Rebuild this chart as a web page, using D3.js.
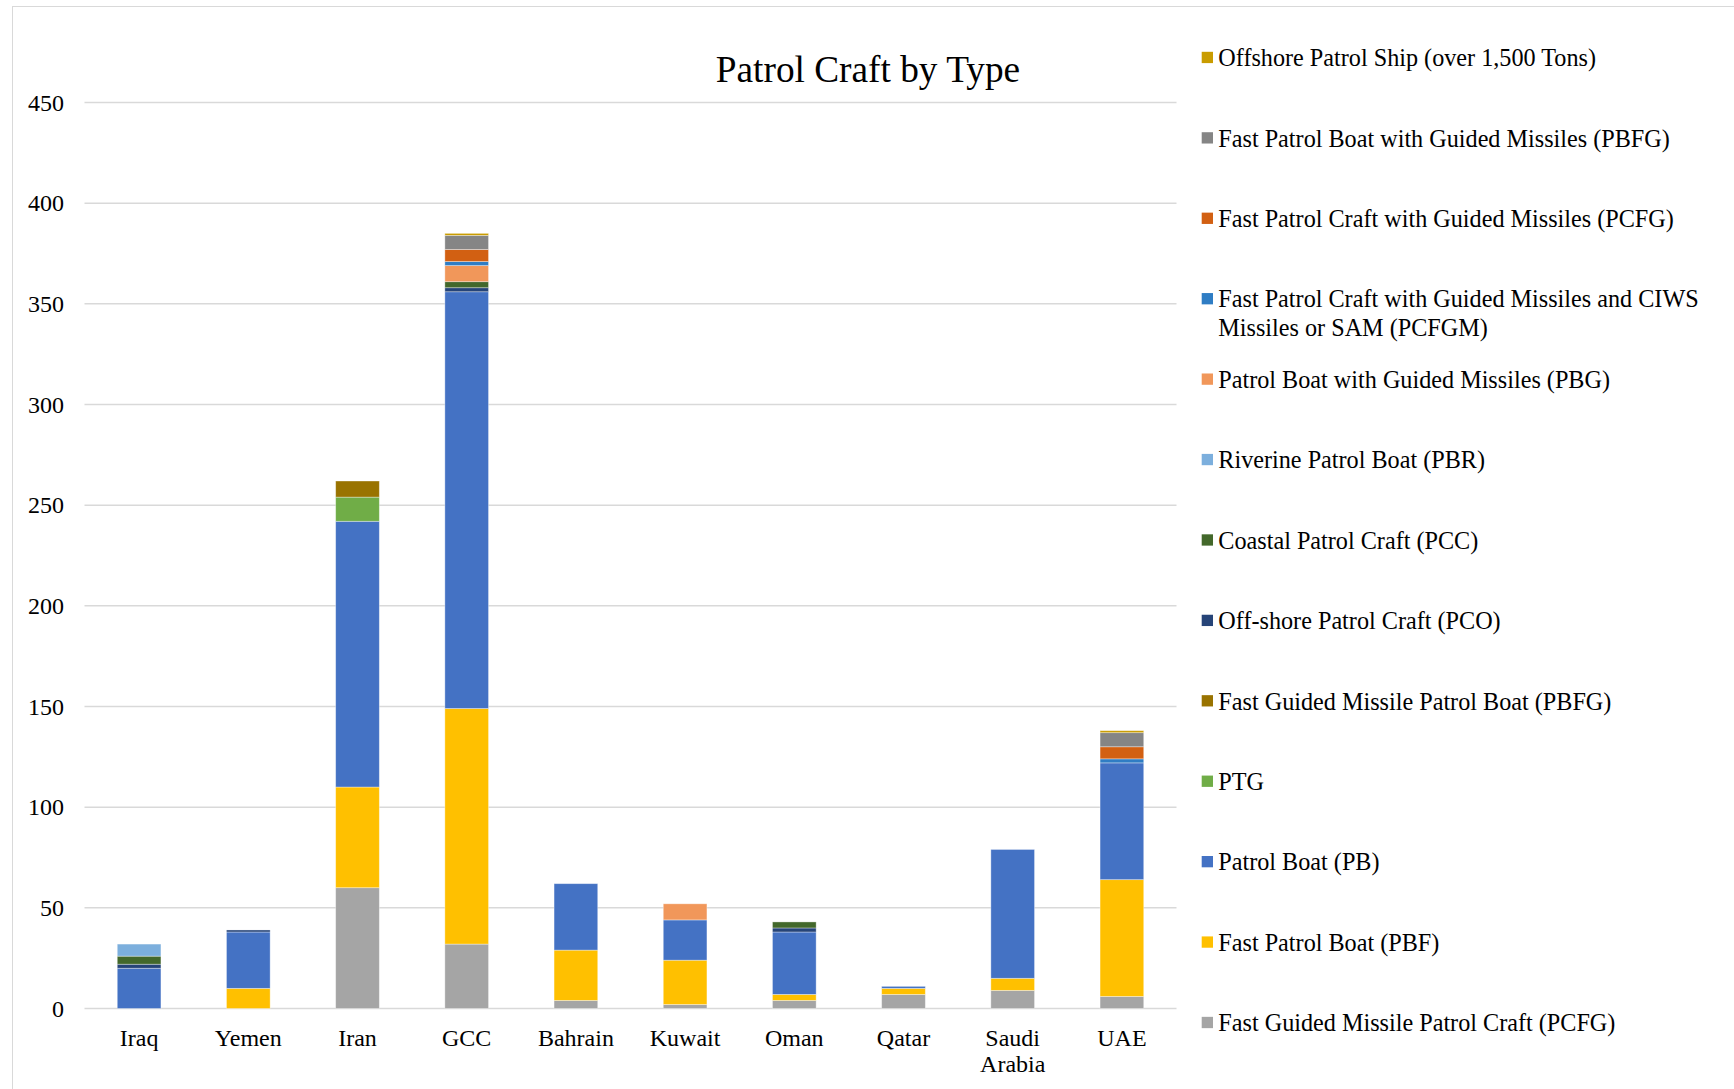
<!DOCTYPE html>
<html>
<head>
<meta charset="utf-8">
<script src="https://cdn.jsdelivr.net/npm/d3@7"></script>
<style>
  html, body { margin: 0; padding: 0; background: #fff; }
  svg { display: block; }
  text { font-family: "Liberation Serif", "Times New Roman", serif; fill: #000; }
</style>
</head>
<body>
<svg id="chart" width="1734" height="1089"></svg>
<script>
// ---- Data ----
const categories = ["Iraq", "Yemen", "Iran", "GCC", "Bahrain", "Kuwait", "Oman", "Qatar", "Saudi Arabia", "UAE"];

// Series listed bottom of stack -> top of stack
const seriesNames = [
  "Fast Guided Missile Patrol Craft (PCFG)",
  "Fast Patrol Boat (PBF)",
  "Patrol Boat (PB)",
  "PTG",
  "Fast Guided Missile Patrol Boat (PBFG)",
  "Off-shore Patrol Craft (PCO)",
  "Coastal Patrol Craft (PCC)",
  "Riverine Patrol Boat (PBR)",
  "Patrol Boat with Guided Missiles (PBG)",
  "Fast Patrol Craft with Guided Missiles and CIWS Missiles or SAM (PCFGM)",
  "Fast Patrol Craft with Guided Missiles (PCFG)",
  "Fast Patrol Boat with Guided Missiles (PBFG)",
  "Offshore Patrol Ship (over 1,500 Tons)"
];

const seriesColors = [
  "#A5A5A5", "#FFC000", "#4472C4", "#70AD47", "#997300", "#264478",
  "#43682B", "#7CAFDD", "#F1975A", "#2F7DC4", "#D26012", "#858585", "#C99C00"
];

//                        Iraq Yemen Iran GCC Bahr Kuw Oman Qat Saudi UAE
const pcfgGrayValues   = [  0,   0,  60,  32,   4,   2,   4,   7,   9,   6];
const pbfValues        = [  0,  10,  50, 117,  25,  22,   3,   3,   6,  58];
const pbValues         = [ 20,  28, 132, 207,  33,  20,  31,   1,  64,  58];
const ptgValues        = [  0,   0,  12,   0,   0,   0,   0,   0,   0,   0];
const pbfgBrownValues  = [  0,   0,   8,   0,   0,   0,   0,   0,   0,   0];
const pcoValues        = [  2,   1,   0,   2,   0,   0,   2,   0,   0,   0];
const pccValues        = [  4,   0,   0,   3,   0,   0,   3,   0,   0,   0];
const pbrValues        = [  6,   0,   0,   0,   0,   0,   0,   0,   0,   0];
const pbgValues        = [  0,   0,   0,   8,   0,   8,   0,   0,   0,   0];
const pcfgmValues      = [  0,   0,   0,   2,   0,   0,   0,   0,   0,   2];
const pcfgOrangeValues = [  0,   0,   0,   6,   0,   0,   0,   0,   0,   6];
const pbfgGrayValues   = [  0,   0,   0,   7,   0,   0,   0,   0,   0,   7];
const opsValues        = [  0,   0,   0,   1,   0,   0,   0,   0,   0,   1];

const yTicks = [0, 50, 100, 150, 200, 250, 300, 350, 400, 450];
const chartTitle = "Patrol Craft by Type";

const seriesValues = [
  pcfgGrayValues, pbfValues, pbValues, ptgValues, pbfgBrownValues, pcoValues,
  pccValues, pbrValues, pbgValues, pcfgmValues, pcfgOrangeValues, pbfgGrayValues, opsValues
];

// ---- Build table for d3.stack ----
const keys = seriesNames.map((_, i) => "s" + i);
const table = categories.map((c, ci) => {
  const row = { category: c };
  keys.forEach((k, si) => { row[k] = seriesValues[si][ci]; });
  return row;
});

const svg = d3.select("#chart");

// outer chart border
svg.append("rect")
  .attr("x", 12.5).attr("y", 6.5)
  .attr("width", 1800).attr("height", 1200)
  .attr("fill", "none").attr("stroke", "#D9D9D9").attr("stroke-width", 1);

const x = d3.scaleBand().domain(categories).range([84.5, 1176.5]).paddingInner(0.6).paddingOuter(0.3);
const y = d3.scaleLinear().domain([0, 450]).range([1008.5, 102.5]);

// gridlines
svg.append("g").selectAll("line").data(yTicks).join("line")
  .attr("x1", 84.5).attr("x2", 1176.5)
  .attr("y1", d => y(d)).attr("y2", d => y(d))
  .attr("stroke", "#D9D9D9").attr("stroke-width", 1.5);

// y axis labels
const yAxis = d3.axisLeft(y).tickValues(yTicks).tickSize(0).tickPadding(0);
const yg = svg.append("g").attr("transform", "translate(64,0)").call(yAxis);
yg.select(".domain").remove();
yg.selectAll("text")
  .attr("font-size", 24)
  .attr("font-family", "Liberation Serif, Times New Roman, serif")
  .attr("fill", "#000");

// stacked bars
const stacked = d3.stack().keys(keys)(table);
svg.append("g").selectAll("g").data(stacked).join("g")
  .attr("fill", (d, i) => seriesColors[i])
  .selectAll("rect").data(d => d.filter(p => p[1] - p[0] > 0)).join("rect")
  .attr("x", d => x(d.data.category))
  .attr("width", x.bandwidth())
  .attr("y", d => y(d[1]))
  .attr("height", d => y(d[0]) - y(d[1]))
  .attr("stroke", "#ffffff").attr("stroke-opacity", 0.45).attr("stroke-width", 0.8);

// x axis labels
const xAxis = d3.axisBottom(x).tickSize(0).tickPadding(0);
const xg = svg.append("g").attr("transform", "translate(0,1008.5)").call(xAxis);
xg.select(".domain").remove();
xg.selectAll("text").each(function(d) {
  const t = d3.select(this);
  t.text(null).attr("y", 0).attr("dy", null)
    .attr("font-size", 24)
    .attr("font-family", "Liberation Serif, Times New Roman, serif")
    .attr("fill", "#000");
  const words = d.split(" ");
  words.forEach((w, i) => {
    t.append("tspan").attr("x", 0).attr("y", 37 + i * 26.6).text(w);
  });
});

// title
svg.append("text")
  .attr("x", 868).attr("y", 81.5)
  .attr("text-anchor", "middle")
  .attr("font-size", 37.3)
  .text(chartTitle);

// legend (top -> bottom is reverse of stack order)
const legendOrder = d3.range(seriesNames.length).reverse();
const legendLines = {
  9: ["Fast Patrol Craft with Guided Missiles and CIWS", "Missiles or SAM (PCFGM)"]
};
const lg = svg.append("g");
legendOrder.forEach((si, row) => {
  const base = 66.2 + row * 80.42;
  lg.append("rect")
    .attr("x", 1201.7).attr("y", base - 14.4)
    .attr("width", 11.3).attr("height", 11.3)
    .attr("fill", seriesColors[si]);
  const lines = legendLines[si] || [seriesNames[si]];
  const t = lg.append("text").attr("font-size", 24.2);
  lines.forEach((ln, li) => {
    t.append("tspan").attr("x", 1218.3).attr("y", base + li * 28.3).text(ln);
  });
});
</script>
</body>
</html>
